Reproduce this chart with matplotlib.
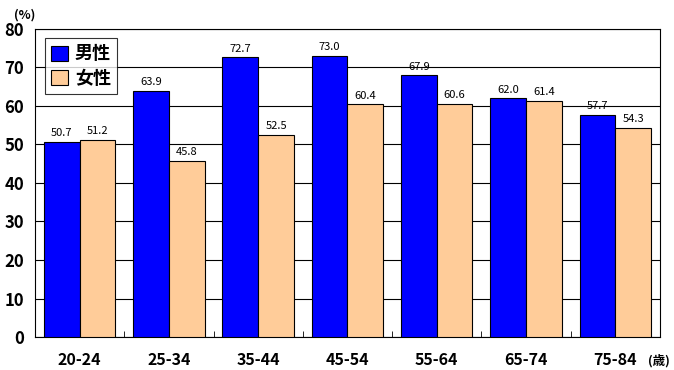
import matplotlib
matplotlib.use("Agg")
import matplotlib.pyplot as plt
import numpy as np

plt.rcParams['font.family'] = ['Noto Sans CJK JP', 'DejaVu Sans']

ages = ["20-24", "25-34", "35-44", "45-54", "55-64", "65-74", "75-84"]
male = [50.7, 63.9, 72.7, 73.0, 67.9, 62.0, 57.7]
female = [51.2, 45.8, 52.5, 60.4, 60.6, 61.4, 54.3]

fig = plt.figure(figsize=(6.74, 3.70), dpi=100)
ax = fig.add_axes([0.052, 0.089, 0.927, 0.833])

x = np.arange(len(ages))
w = 0.4
b1 = ax.bar(x - w/2, male, w, color="#0000ff", edgecolor="black", linewidth=0.8, label="男性", zorder=3)
b2 = ax.bar(x + w/2, female, w, color="#ffcc99", edgecolor="black", linewidth=0.8, label="女性", zorder=3)

for bars in (b1, b2):
    for r in bars:
        h = r.get_height()
        ax.text(r.get_x() + r.get_width()/2, h + 0.9, f"{h:.1f}", ha="center", va="bottom",
                fontsize=8)

ax.set_xlim(-0.5, len(ages) - 0.5)
ax.set_ylim(0, 80)
ax.set_yticks(range(0, 81, 10))
ax.yaxis.grid(True, color="black", linewidth=0.8, zorder=0)
ax.set_axisbelow(True)
ax.tick_params(axis="y", length=0, labelsize=12, pad=8)
ax.set_xticks(x)
ax.set_xticklabels(ages)
ax.tick_params(axis="x", length=0, labelsize=11.5, pad=11)
for lbl in ax.get_xticklabels() + ax.get_yticklabels():
    lbl.set_fontweight("bold")
# small tick marks between groups
ax.set_xticks(np.arange(0.5, len(ages) - 0.5, 1), minor=True)
ax.tick_params(axis="x", which="minor", direction="in", length=4, color="black")

for s in ax.spines.values():
    s.set_color("black")
    s.set_linewidth(0.8)

leg = ax.legend(loc="upper left", bbox_to_anchor=(0.016, 0.97), frameon=True, fancybox=False,
                edgecolor="black", prop={"size": 13, "weight": "bold"},
                handlelength=0.9, handleheight=0.9, handletextpad=0.4, borderpad=0.35,
                labelspacing=0.3, borderaxespad=0)
leg.get_frame().set_linewidth(0.8)

fig.text(0.037, 0.96, "(%)", fontsize=9, fontweight="bold", ha="center", va="center")
fig.text(0.977, 0.025, "(歳)", fontsize=9, fontweight="bold", ha="center", va="center")

fig.savefig("out.png", dpi=100)
